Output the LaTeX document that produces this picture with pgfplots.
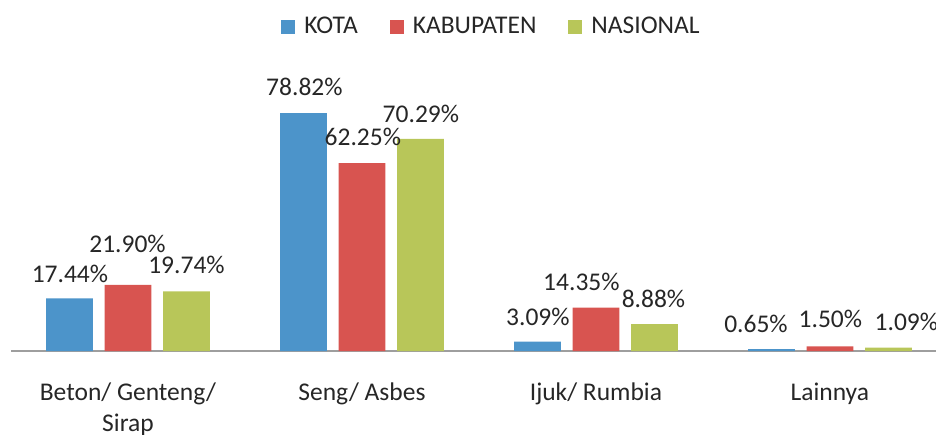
\documentclass[border=0pt]{standalone}
\usepackage{pgfplots}
\pgfplotsset{compat=1.18}
\usepackage{fontspec}
\setmainfont{Carlito}
\definecolor{cKota}{RGB}{76,148,202}
\definecolor{cKab}{RGB}{216,84,80}
\definecolor{cNas}{RGB}{184,198,89}
\definecolor{cTxt}{RGB}{38,38,38}
\newcommand{\lblfont}{\fontsize{12.75}{15}\selectfont}
\begin{document}
\lblfont
\begin{tikzpicture}
\useasboundingbox (0,0) rectangle (468pt,217pt);
\begin{axis}[
  at={(5.5pt,41.5pt)}, anchor=south west,
  scale only axis, width=462.5pt, height=145.5pt,
  xmin=-0.5, xmax=3.4535, ymin=0, ymax=96.4,
  clip=false,
  axis x line=bottom, axis y line=none,
  x axis line style={-, draw=black!38, line width=0.75pt},
  xtick={0,1,2,3},
  xticklabels={{\begin{tabular}[t]{@{}c@{}}Beton/ Genteng/\\[0.6pt]Sirap\end{tabular}}, Seng/ Asbes, Ijuk/ Rumbia, Lainnya},
  major tick length=0pt,
  xticklabel style={anchor=base, inner sep=0pt, yshift=-24.8pt, font=\lblfont, text=cTxt},
  legend style={at={(0.5184,1.1134)}, anchor=center, draw=none, fill=none,
    inner sep=0pt, font=\lblfont, text=cTxt,
    /tikz/every odd column/.append style={column sep=4.5pt},
    /tikz/every even column/.append style={column sep=16pt},
    nodes={inner sep=0pt}},
  legend columns=-1,
  legend image code/.code={\fill[#1] (0pt,-3.5pt) rectangle (7pt,3.5pt);},
]
\addplot[ybar, bar width=0.2, bar shift=0pt, draw=none, fill=cKota] coordinates {(-0.25,17.44) (0.75,78.82) (1.75,3.09) (2.75,0.65)};
\addlegendentry{KOTA}
\addplot[ybar, bar width=0.2, bar shift=0pt, draw=none, fill=cKab] coordinates {(0,21.90) (1,62.25) (2,14.35) (3,1.50)};
\addlegendentry{KABUPATEN}
\addplot[ybar, bar width=0.2, bar shift=0pt, draw=none, fill=cNas] coordinates {(0.25,19.74) (1.25,70.29) (2.25,8.88) (3.25,1.09)};
\addlegendentry{NASIONAL}
\addplot[only marks, mark=none, forget plot, nodes near coords={\pgfplotspointmeta\%},
  point meta=explicit symbolic,
  every node near coord/.append style={anchor=base, inner sep=0pt, font=\lblfont, text=cTxt}]
  table[meta=lab] {
x y lab
-0.248 22.85 17.44
-0.002 32.78 21.90
0.250 25.83 19.74
0.754 84.77 78.82
1.004 68.21 62.25
1.252 75.83 70.29
1.752 8.61 3.09
1.938 20.20 14.35
2.246 14.57 8.88
2.684 6.29 0.65
3.002 7.62 1.50
3.327 6.95 1.09
};
\end{axis}
\end{tikzpicture}
\end{document}
